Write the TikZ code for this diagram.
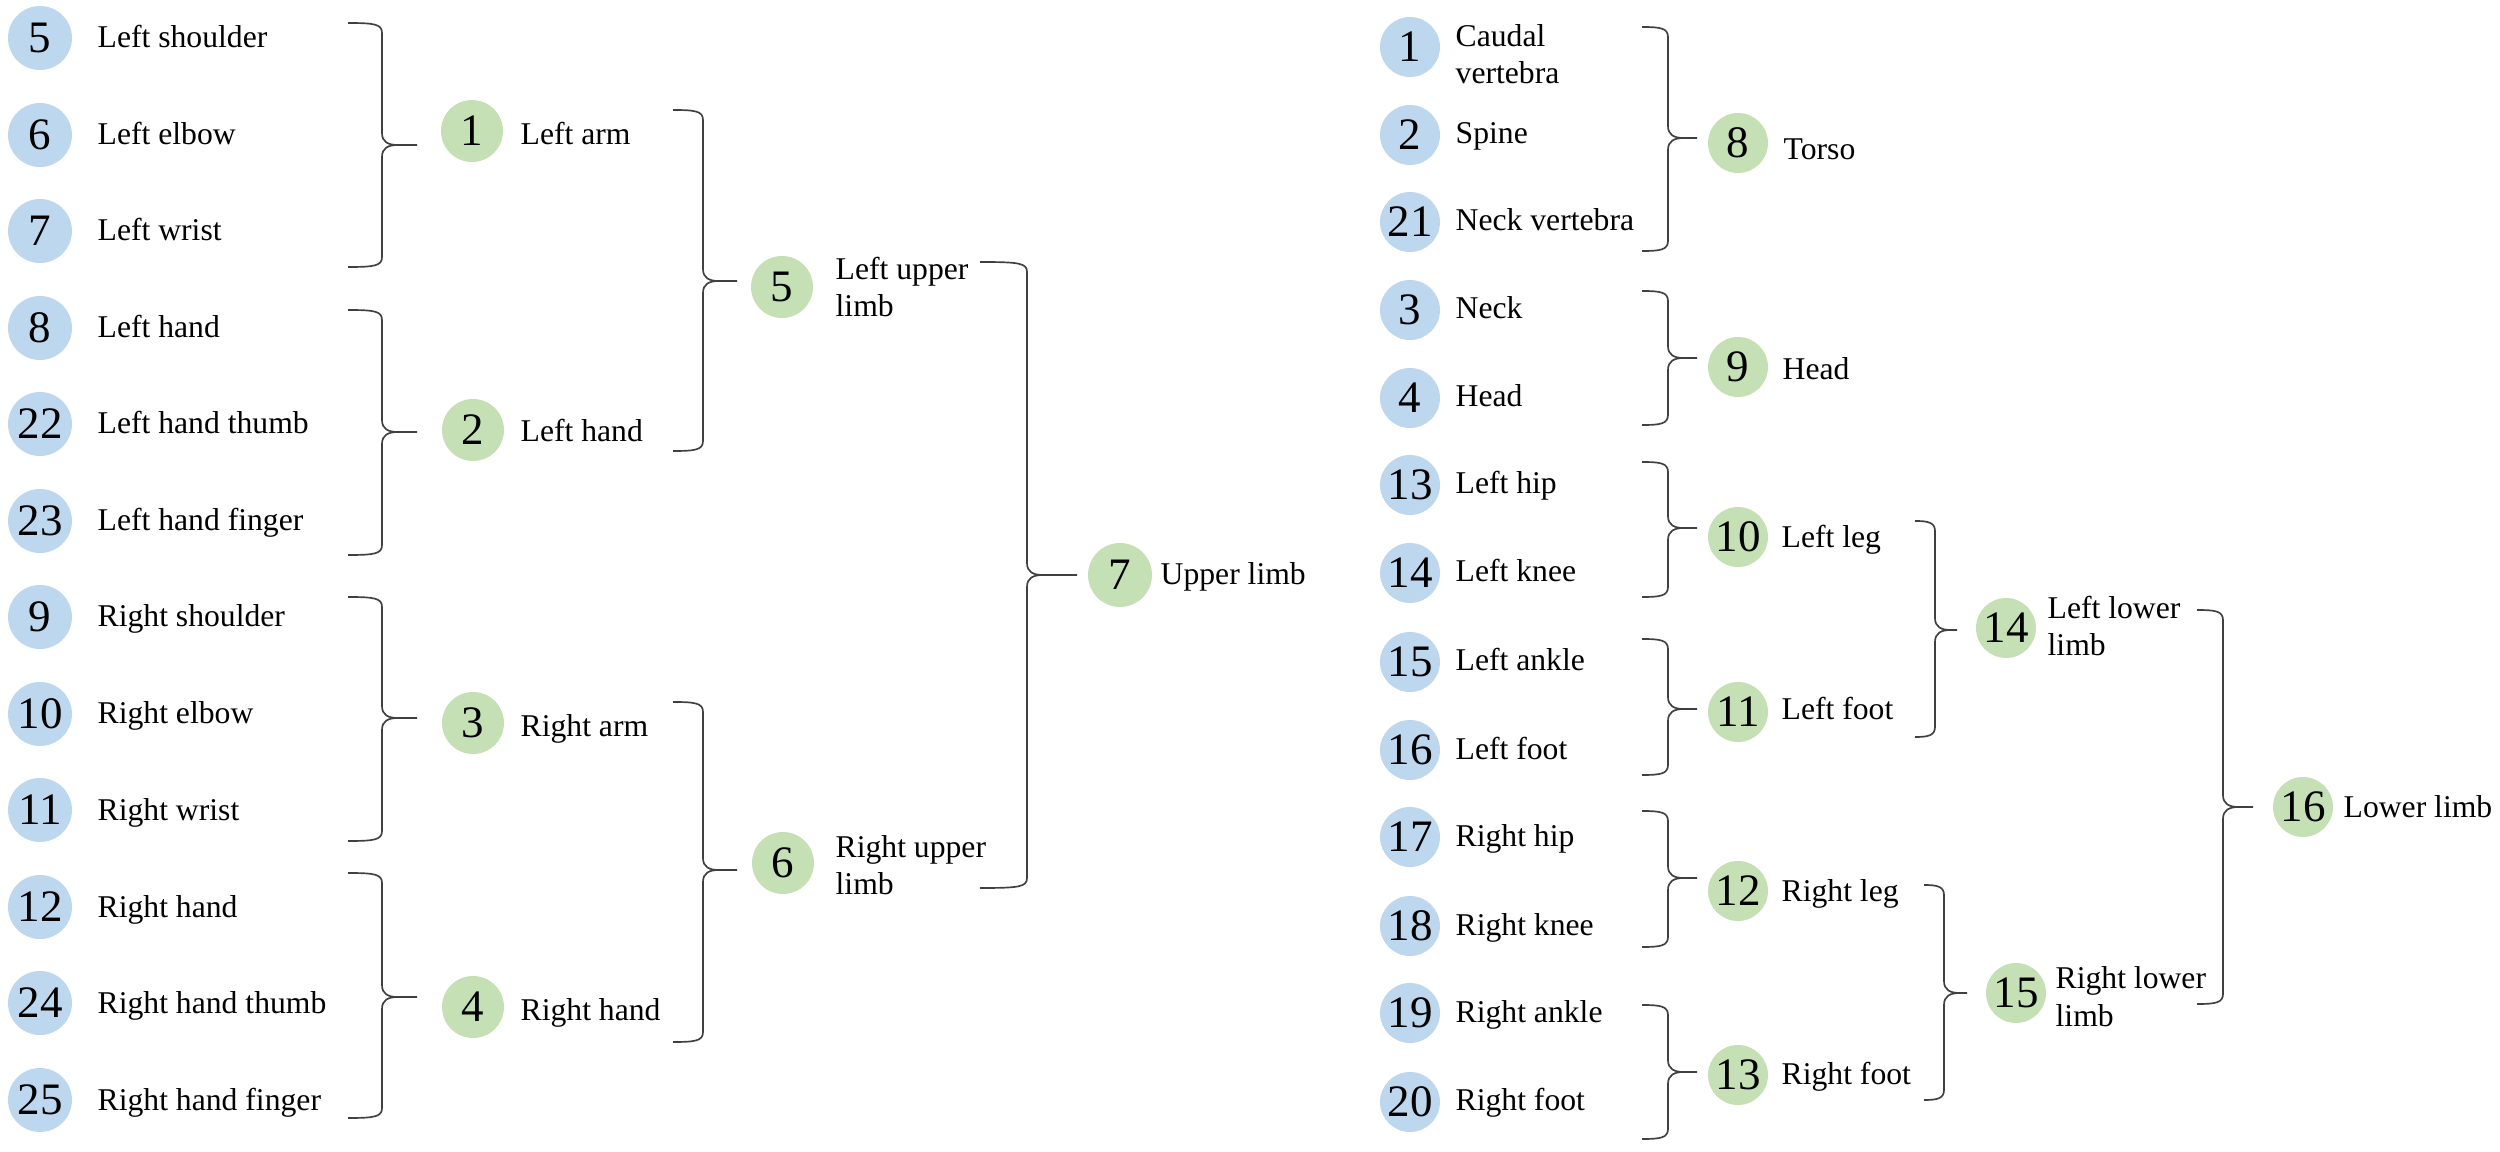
\documentclass[tikz,border=0pt]{standalone}
\usepackage{fontspec}
\setmainfont{Liberation Serif}
\definecolor{blu}{HTML}{BDD7EE}
\definecolor{grn}{HTML}{C5E0B4}
\tikzset{
  num/.style={circle, inner sep=0pt, font=\fontsize{13.5}{14}\selectfont},
  bn/.style={num, fill=blu, minimum size=19.2pt},
  bnr/.style={num, fill=blu, minimum size=18pt},
  gn/.style={num, fill=grn, minimum size=18.6pt},
  lbl/.style={anchor=base west, inner sep=0pt, font=\fontsize{9.5}{11.1}\selectfont},
  brc/.style={draw=black!75, line width=0.5pt},
}
\newcommand{\Brk}[6]{% x0 x1 xt yt ym yb
  \draw[brc] (#1,#4) .. controls ({#2-8},#4) and (#2,{#4+1}) .. (#2,{#4+10})
    -- (#2,{#5-12}) .. controls (#2,{#5-3}) and ({#2+6},#5) .. ({#2+16},#5) -- (#3,#5)
    -- ({#2+16},#5) .. controls ({#2+6},#5) and (#2,{#5+3}) .. (#2,{#5+12})
    -- (#2,{#6-10}) .. controls (#2,{#6-1}) and ({#2-8},#6) .. (#1,#6);}
\newcommand{\TwoL}[2]{\parbox[t]{4cm}{#1\\#2}}
\begin{document}
\begin{tikzpicture}[x=0.3pt, y=-0.3pt]
\useasboundingbox (0,0) rectangle (2500,1152);
% left leaves
\foreach \n/\t/\y in {5/Left shoulder/38, 6/Left elbow/135, 7/Left wrist/231,
  8/Left hand/328, 22/Left hand thumb/424, 23/Left hand finger/521,
  9/Right shoulder/617, 10/Right elbow/714, 11/Right wrist/810,
  12/Right hand/907, 24/Right hand thumb/1003, 25/Right hand finger/1100}{
  \node[bn] (bl\n) at (40,\y) {\n};
  \node[lbl] (tbl\n) at (97,{\y+10}) {\t};
}
% right leaves
\node[bnr] (br1) at (1410,47) {1};
\node[lbl] (tbr1) at (1455,47) {\TwoL{Caudal}{vertebra}};
\foreach \n/\t/\y in {2/Spine/135, 21/Neck vertebra/222, 3/Neck/310, 4/Head/398,
  13/Left hip/485, 14/Left knee/573, 15/Left ankle/662, 16/Left foot/750,
  17/Right hip/837, 18/Right knee/926, 19/Right ankle/1013, 20/Right foot/1102}{
  \node[bnr] (br\n) at (1410,\y) {\n};
  \node[lbl] (tbr\n) at (1455,{\y+9}) {\t};
}
% green nodes, left half
\node[gn] (g1) at (472,131) {1};  \node[lbl] (tg1) at (520,145) {Left arm};
\node[gn] (g2) at (473,430) {2};  \node[lbl] (tg2) at (520,442) {Left hand};
\node[gn] (g3) at (473,723) {3};  \node[lbl] (tg3) at (520,737) {Right arm};
\node[gn] (g4) at (473,1007) {4}; \node[lbl] (tg4) at (520,1020) {Right hand};
\node[gn] (g5) at (782,287) {5};  \node[lbl] (tg5) at (835,280) {\TwoL{Left upper}{limb}};
\node[gn] (g6) at (783,863) {6};  \node[lbl] (tg6) at (835,858) {\TwoL{Right upper}{limb}};
\node[gn, minimum size=19.2pt] (g7) at (1120,575) {7}; \node[lbl] (tg7) at (1160,585) {Upper limb};
% green nodes, right half
\node[bnr, fill=grn] (g8) at (1738,143) {8};   \node[lbl] (tg8) at (1783,160) {Torso};
\node[bnr, fill=grn] (g9) at (1738,367) {9};   \node[lbl] (tg9) at (1782,380) {Head};
\node[bnr, fill=grn] (g10) at (1738,537) {10}; \node[lbl] (tg10) at (1781,548) {Left leg};
\node[bnr, fill=grn] (g11) at (1738,712) {11}; \node[lbl] (tg11) at (1781,720) {Left foot};
\node[bnr, fill=grn] (g12) at (1738,891) {12}; \node[lbl] (tg12) at (1781,902) {Right leg};
\node[bnr, fill=grn] (g13) at (1738,1075) {13}; \node[lbl] (tg13) at (1781,1085) {Right foot};
\node[bnr, fill=grn] (g14) at (2006,628) {14}; \node[lbl] (tg14) at (2047,619) {\TwoL{Left lower}{limb}};
\node[bnr, fill=grn] (g15) at (2016,993) {15}; \node[lbl] (tg15) at (2055,989) {\TwoL{Right lower}{limb}};
\node[bnr, fill=grn] (g16) at (2303,807) {16}; \node[lbl] (tg16) at (2343,818) {Lower limb};
% braces, left half
\Brk{348}{382}{417}{23}{145}{267}
\Brk{348}{382}{417}{310}{432}{555}
\Brk{348}{382}{417}{597}{718}{841}
\Brk{348}{382}{417}{873}{997}{1118}
\Brk{673}{703}{737}{110}{281}{451}
\Brk{673}{703}{737}{702}{870}{1042}
\Brk{980}{1027}{1077}{262}{575}{888}
% braces, right half
\Brk{1642}{1668}{1697}{27}{138}{251}
\Brk{1642}{1668}{1697}{291}{358}{425}
\Brk{1642}{1668}{1697}{462}{528}{597}
\Brk{1642}{1668}{1697}{639}{709}{775}
\Brk{1642}{1668}{1697}{811}{878}{947}
\Brk{1642}{1668}{1697}{1005}{1072}{1139}
\Brk{1915}{1935}{1957}{521}{630}{737}
\Brk{1924}{1944}{1967}{885}{993}{1100}
\Brk{2197}{2223}{2253}{610}{807}{1004}
\end{tikzpicture}
\end{document}
